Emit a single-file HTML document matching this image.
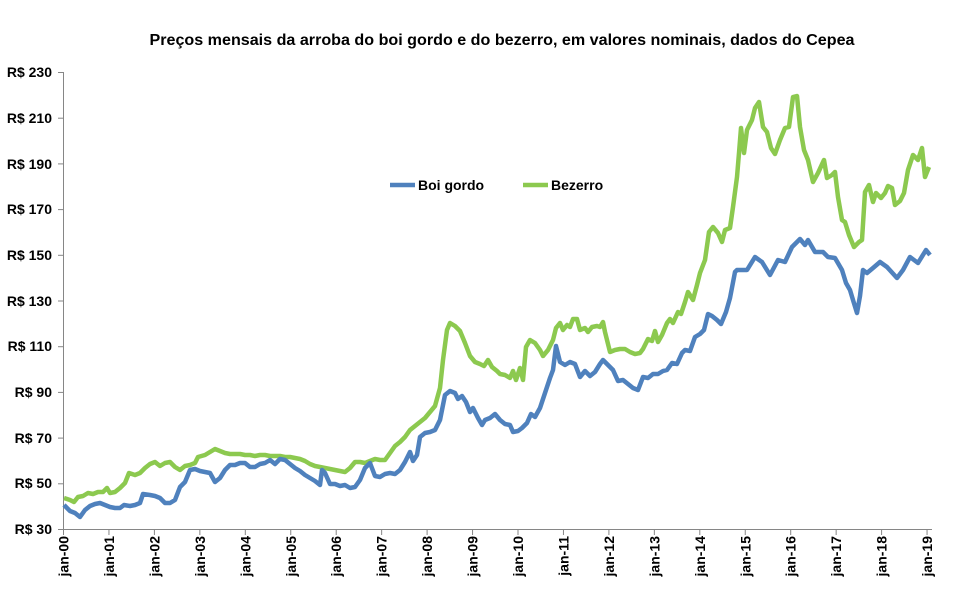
<!DOCTYPE html>
<html><head><meta charset="utf-8"><style>
body{margin:0;background:#fff;}
svg text{font-family:"Liberation Sans",Arial,sans-serif;font-weight:bold;fill:#000;}
</style></head><body>
<svg width="961" height="594" xmlns="http://www.w3.org/2000/svg">
<rect width="961" height="594" fill="#fff"/>
<text x="502" y="45" font-size="16" text-anchor="middle" textLength="705" lengthAdjust="spacingAndGlyphs">Preços mensais da arroba do boi gordo e do bezerro, em valores nominais, dados do Cepea</text>
<g stroke="#868686" stroke-width="1">
<line x1="63.5" y1="72" x2="63.5" y2="529"/>
<line x1="63" y1="529.5" x2="932" y2="529.5"/>
<line x1="58" y1="72.5" x2="63" y2="72.5"/>
<line x1="58" y1="118.2" x2="63" y2="118.2"/>
<line x1="58" y1="163.9" x2="63" y2="163.9"/>
<line x1="58" y1="209.6" x2="63" y2="209.6"/>
<line x1="58" y1="255.3" x2="63" y2="255.3"/>
<line x1="58" y1="301" x2="63" y2="301"/>
<line x1="58" y1="346.7" x2="63" y2="346.7"/>
<line x1="58" y1="392.4" x2="63" y2="392.4"/>
<line x1="58" y1="438.1" x2="63" y2="438.1"/>
<line x1="58" y1="483.8" x2="63" y2="483.8"/>
<line x1="58" y1="529.5" x2="63" y2="529.5"/>
</g>
<g font-size="14" text-anchor="end">
<text x="52" y="77">R$ 230</text>
<text x="52" y="123">R$ 210</text>
<text x="52" y="169">R$ 190</text>
<text x="52" y="214">R$ 170</text>
<text x="52" y="260">R$ 150</text>
<text x="52" y="306">R$ 130</text>
<text x="52" y="351">R$ 110</text>
<text x="52" y="397">R$ 90</text>
<text x="52" y="443">R$ 70</text>
<text x="52" y="488">R$ 50</text>
<text x="52" y="534">R$ 30</text>
</g>
<g id="xt" font-size="14" text-anchor="end"></g>
<polyline fill="none" stroke="#8cc94f" stroke-width="4.5" stroke-linejoin="round" points="64,498 70,500 74,502 78,497 83,496 88,493 93,494 98,492 103,492 107,488 110,493 115,492 120,488 125,483 129,473 135,475 140,473 145,468 150,464 155,462 160,466 165,463 170,462 175,467 180,470 185,466 190,465 195,463 198,457 205,455 210,452 215,449 220,451 225,453 230,454 235,454 240,454 245,455 250,455 255,456 260,455 265,455 270,456 275,456 280,456 285,457 290,457 295,458 300,459 305,461 310,464 315,466 320,467 325,468 330,469 335,470 340,471 345,472 350,468 355,462 360,462 365,463 370,461 375,459 380,460 385,460 390,453 395,446 400,442 405,437 410,430 415,426 420,422 425,418 430,412 435,406 440,388 443,360 447,330 450,323 455,326 460,331 465,343 470,356 475,362 480,364 484,366 488,360 492,367 497,371 500,374 505,375 510,378 513,371 516,380 520,368 523,380 526,347 530,340 535,343 540,350 543,356 548,350 553,340 556,328 560,323 563,330 567,325 570,327 573,319 577,319 580,330 585,328 588,332 592,327 597,326 600,327 603,322 605,332 610,352 615,350 620,349 625,349 630,352 635,354 640,353 643,349 648,339 652,341 655,331 658,342 662,335 667,323 670,319 673,323 678,312 681,314 685,302 688,292 693,300 697,285 700,273 705,260 709,232 713,227 718,233 722,242 725,230 730,228 733,207 737,177 739,153 741,128 744,153 747,130 752,120 755,108 759,102 763,127 767,132 771,148 775,154 780,140 785,128 789,127 793,97 797,96 800,127 804,150 808,160 813,182 818,173 824,160 827,178 832,175 835,172 838,197 842,220 845,222 849,235 854,247 859,242 862,240 865,192 869,185 873,202 876,193 881,198 885,193 888,186 892,188 895,205 900,201 904,193 908,170 913,155 918,160 922,148 925,177 929,167"/>
<polyline fill="none" stroke="#4f81bd" stroke-width="4.5" stroke-linejoin="round" points="64,505 70,511 75,513 80,517 85,510 90,506 95,504 100,503 105,505 110,507 115,508 120,508 124,505 130,506 135,505 140,503 143,494 150,495 155,496 160,498 165,503 170,503 175,500 180,487 185,482 190,470 195,469 200,471 205,472 210,473 215,482 220,478 225,470 230,465 235,465 240,463 245,463 250,467 255,467 260,464 265,463 270,460 275,464 280,459 285,460 290,464 295,468 300,471 305,475 310,478 315,481 320,485 322,470 325,473 330,484 335,484 340,486 345,485 350,488 355,487 360,480 365,468 370,463 375,476 380,477 385,474 390,473 395,474 400,470 405,462 410,452 413,461 417,455 420,437 425,433 430,432 435,430 440,420 445,395 450,391 455,393 458,399 462,396 466,402 470,412 473,408 478,418 482,425 485,420 490,418 495,414 500,420 505,424 510,425 513,432 518,431 522,428 527,423 531,414 535,417 540,408 545,393 550,378 553,370 556,346 560,362 565,365 570,362 575,364 580,377 585,371 590,376 595,372 600,364 603,360 608,365 613,370 618,381 623,380 628,384 633,388 638,390 643,377 648,378 653,374 658,374 663,371 667,370 672,363 677,364 682,353 685,350 690,351 695,337 700,334 704,330 708,314 712,316 717,320 721,324 726,312 730,298 735,272 737,270 747,270 755,257 762,262 770,275 778,260 785,262 792,247 800,239 805,245 808,240 815,252 823,252 828,257 835,258 842,270 846,283 850,290 853,300 857,313 860,296 863,270 867,273 873,268 880,262 887,267 897,278 903,270 910,257 918,263 926,250 930,255"/>
<line x1="390" y1="185" x2="415" y2="185" stroke="#4f81bd" stroke-width="4.5"/>
<text x="418" y="190" font-size="14">Boi gordo</text>
<line x1="523" y1="185" x2="548" y2="185" stroke="#8cc94f" stroke-width="4.5"/>
<text x="551" y="190" font-size="14">Bezerro</text>
</svg>
<script>
var g=document.getElementById('xt'),ns='http://www.w3.org/2000/svg';
var svg=g.ownerSVGElement;
for(var i=0;i<=19;i++){var x=63.5+45.45*i;
var l=document.createElementNS(ns,'line');l.setAttribute('x1',x);l.setAttribute('x2',x);l.setAttribute('y1',529);l.setAttribute('y2',535);l.setAttribute('stroke','#868686');svg.insertBefore(l,g);
var t=document.createElementNS(ns,'text');var yy=(i<10?'0':'')+i;t.textContent='jan-'+yy;
t.setAttribute('transform','translate('+(x+5)+',536) rotate(-90)');g.appendChild(t);}
</script>
</body></html>
